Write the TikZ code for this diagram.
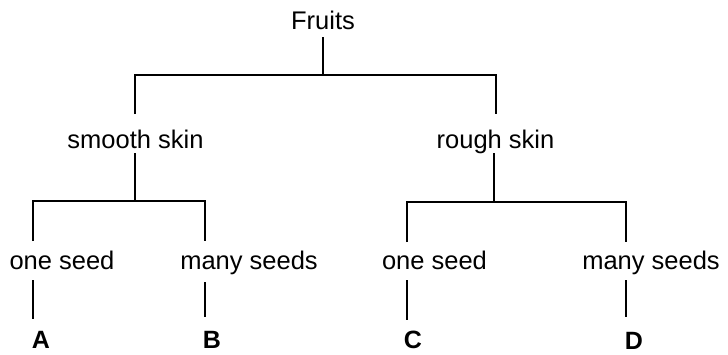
\documentclass[tikz,border=0pt]{standalone}
\usepackage{fontspec}
\setmainfont{Liberation Sans}
\begin{document}
\begin{tikzpicture}[x=1pt,y=1pt,
  lbl/.style={inner sep=0pt, anchor=base, font=\fontsize{25.5pt}{30pt}\selectfont},
  leaf/.style={inner sep=0pt, anchor=base, text depth=0pt, font=\fontsize{25pt}{30pt}\selectfont\bfseries},
  conn/.style={line width=2pt, line join=miter}]
\useasboundingbox (0,0) rectangle (728,-354);
% labels
\node[lbl] (fruits) at (323,-29) {Fruits};
\node[lbl] (smooth) at (135.5,-148) {smooth skin};
\node[lbl] (rough) at (495.5,-148) {rough skin};
\node[lbl] (one1) at (62,-269) {one seed};
\node[lbl] (many1) at (249,-269) {many seeds};
\node[lbl] (one2) at (434.5,-269) {one seed};
\node[lbl] (many2) at (651,-269) {many seeds};
\node[leaf] (A) at (41,-348) {A};
\node[leaf] (B) at (212,-348) {B};
\node[leaf] (C) at (413,-348) {C};
\node[leaf] (D) at (634,-349) {D};
% connector points
\coordinate (f0) at (323,-37);
\coordinate (fb) at (323,-75);
\coordinate (s0) at (135,-114);
\coordinate (r0) at (496,-114);
\coordinate (s1) at (135,-153);
\coordinate (sb) at (135,-201);
\coordinate (o1t) at (33,-241);
\coordinate (m1t) at (205,-241);
\coordinate (r1) at (494,-153);
\coordinate (rb) at (494,-202);
\coordinate (o2t) at (407,-242);
\coordinate (m2t) at (626,-242);
\coordinate (a0) at (33,-280);
\coordinate (a1) at (33,-319);
\coordinate (b0) at (205,-282);
\coordinate (b1) at (205,-317);
\coordinate (c0) at (407,-280);
\coordinate (c1) at (407,-320);
\coordinate (d0) at (626,-280);
\coordinate (d1) at (626,-317);
% connectors
\draw[conn] (f0) -- (fb);
\draw[conn] (s0) |- (fb) -| (r0);
\draw[conn] (s1) -- (sb);
\draw[conn] (o1t) |- (sb) -| (m1t);
\draw[conn] (r1) -- (rb);
\draw[conn] (o2t) |- (rb) -| (m2t);
\draw[conn] (a0) -- (a1);
\draw[conn] (b0) -- (b1);
\draw[conn] (c0) -- (c1);
\draw[conn] (d0) -- (d1);
\end{tikzpicture}
\end{document}
